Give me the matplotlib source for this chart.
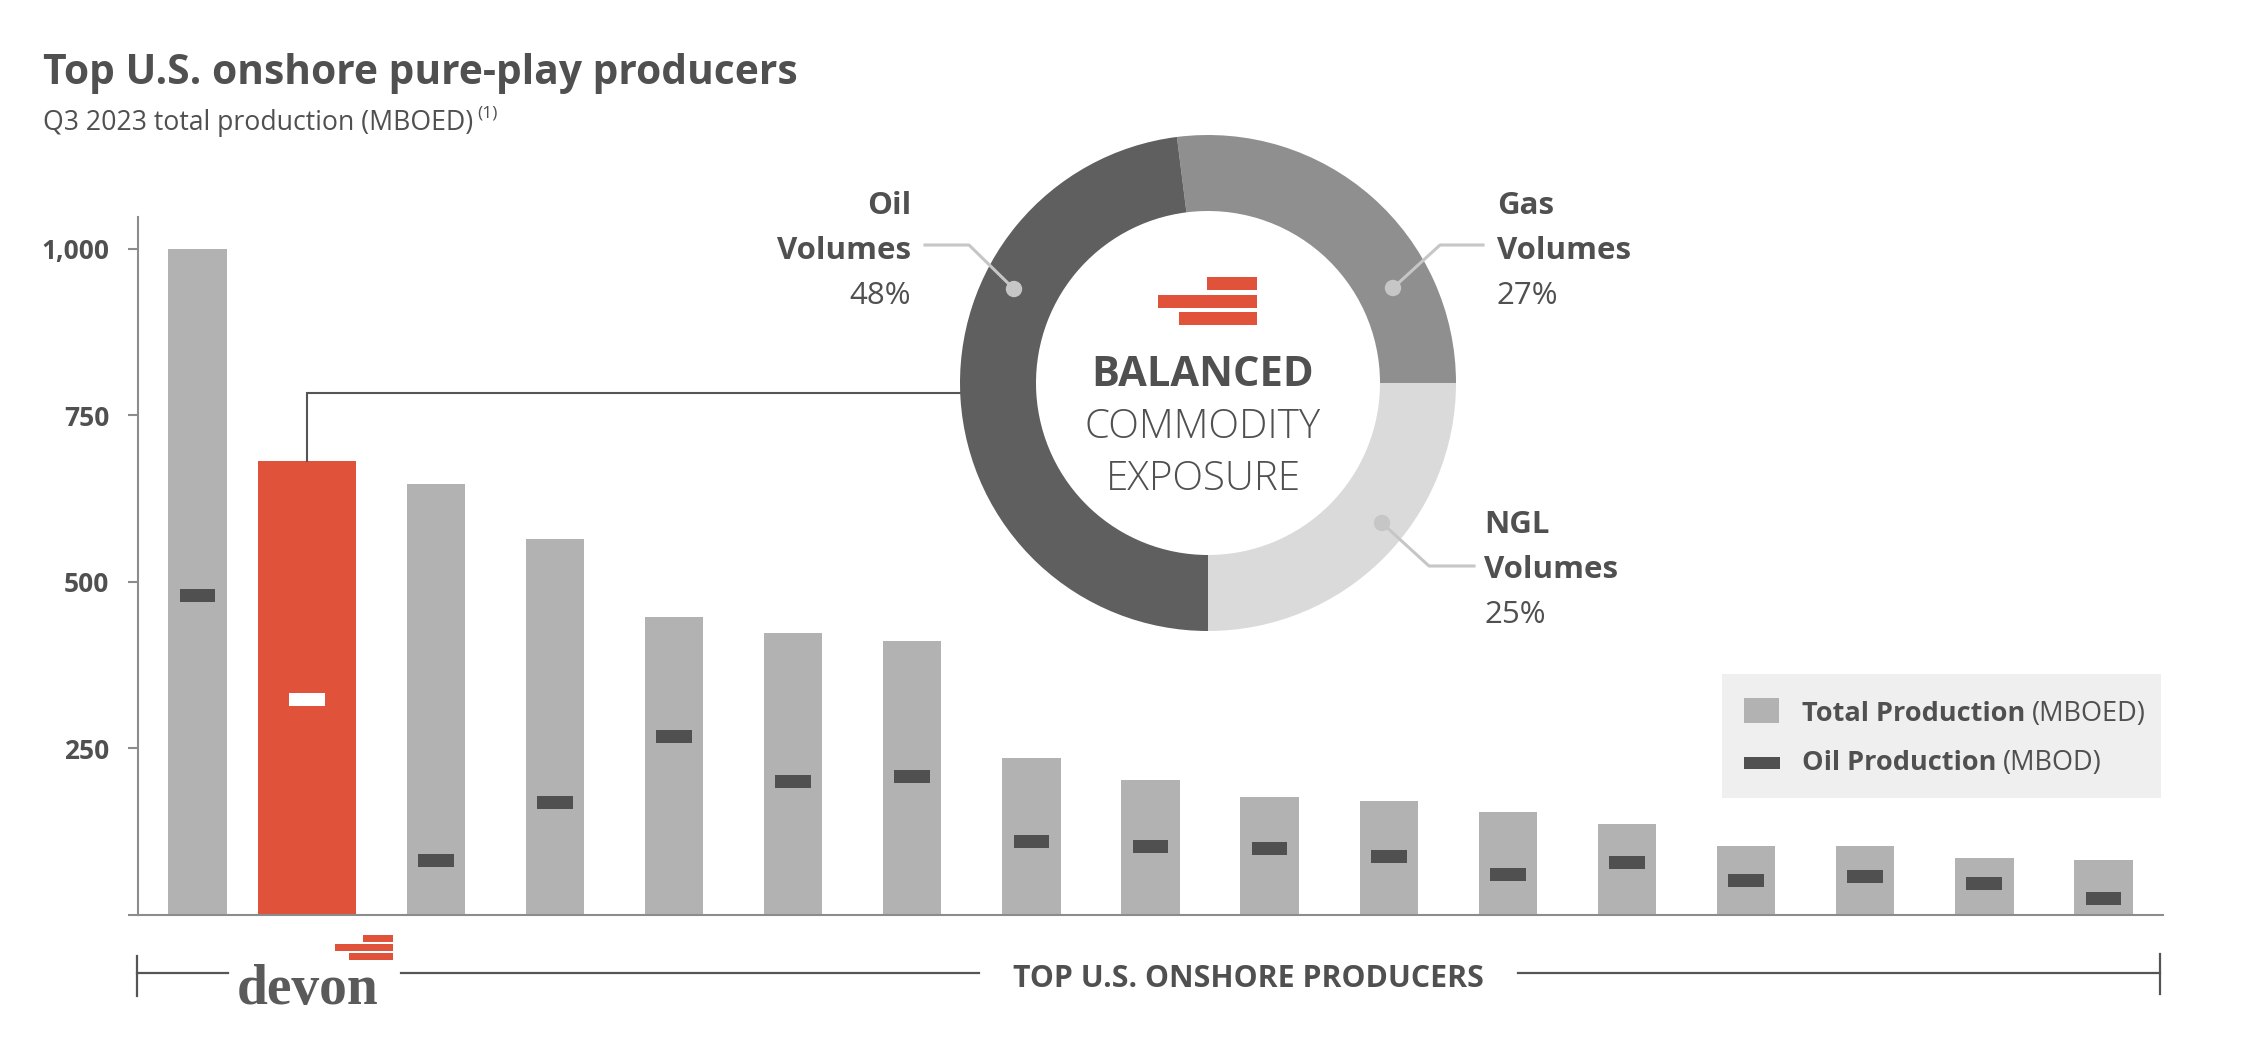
import matplotlib
matplotlib.use("Agg")
import matplotlib.pyplot as plt
from matplotlib.patches import Rectangle, Circle

plt.rcParams["font.family"] = ["Open Sans", "DejaVu Sans"]

W, H = 2268, 1042
DPI = 100

# ---- data ----
producer_rank = list(range(1, 18))
devon_index = 1
total_mboed = [1000, 682, 647, 564, 447, 423, 412, 236, 203, 177, 171, 154, 136, 104, 103, 86, 83]
oil_mbod = [480, 324, 82, 169, 268, 201, 208, 111, 103, 100, 88, 61, 79, 52, 58, 47, 25]
y_ticks = [0, 250, 500, 750, 1000]
y_tick_labels = ["", "250", "500", "750", "1,000"]

mix_labels = ["Gas", "NGL", "Oil"]
mix_pct = [27, 25, 48]

GRAY_BAR = "#b2b2b2"
RED = "#e1523a"
DARK = "#505050"
TEXT = "#505050"
AXIS = "#8c8c8c"
LEADER = "#c6c6c6"


def Y(y):
    # reference pixel rows are counted from the top
    return H - y


fig = plt.figure(figsize=(W / DPI, H / DPI), dpi=DPI)

# ---- bar chart ----
ax = fig.add_axes([138 / W, Y(915) / H, (2163 - 138) / W, (915 - 217) / H])
x = [r - 1 for r in producer_rank]
for i, (t, o) in enumerate(zip(total_mboed, oil_mbod)):
    if i == devon_index:
        xi, bw, bc, mc = x[i] - 0.08, 0.82, RED, "white"
    else:
        xi, bw, bc, mc = x[i], 0.49, GRAY_BAR, DARK
    ax.bar(xi, t, width=bw, color=bc, linewidth=0, zorder=2)
    ax.bar(xi, 19.5, bottom=o - 9.75, width=0.30, color=mc, linewidth=0, zorder=3)

ax.set_xlim(-0.5, 16.5)
ax.set_ylim(0, 1048)
ax.set_xticks([])
ax.set_yticks(y_ticks)
ax.set_yticklabels(y_tick_labels)
for lbl in ax.get_yticklabels():
    lbl.set_fontweight("bold")
ax.tick_params(axis="y", length=7.2, width=1.5, color=AXIS, pad=13.5,
               labelsize=19, labelcolor=TEXT)
for side in ("top", "right"):
    ax.spines[side].set_visible(False)
for side in ("left", "bottom"):
    ax.spines[side].set_color(AXIS)
    ax.spines[side].set_linewidth(1.5)
ax.patch.set_alpha(0)

# ---- overlay in pixel coordinates ----
ov = fig.add_axes([0, 0, 1, 1], zorder=5)
ov.axis("off")

# commodity mix donut
cx, cy, R = 1208, 383, 248
start = -90 + 3.6 * (mix_pct[0] + mix_pct[1])
ov.pie(mix_pct, colors=["#8f8f8f", "#dadada", "#5f5f5f"], startangle=start,
       counterclock=False, radius=R, center=(cx, Y(cy)),
       wedgeprops=dict(width=R - 172, linewidth=0))
ov.set_aspect("auto")
ov.set_xlim(0, W)
ov.set_ylim(0, H)

# connector from Devon bar to donut
rx, ry = ax.transData.transform((x[devon_index] - 0.08, total_mboed[devon_index]))
ov.plot([rx, rx, cx - 200], [ry, Y(393), Y(393)], color="#555555", lw=1.5,
        zorder=0.5, solid_joinstyle="miter")

# leader lines and labels
leaders = [
    ((1014, 289), (969, 245), (925, 245)),
    ((1393, 288), (1440, 245), (1483, 245)),
    ((1382, 523), (1429, 566), (1474, 566)),
]
for pts in leaders:
    ov.plot([p[0] for p in pts], [Y(p[1]) for p in pts], color=LEADER, lw=2.2, zorder=3)
    ov.add_patch(Circle((pts[0][0], Y(pts[0][1])), 7.5, color=LEADER, zorder=4))

label_spots = {"Oil": (911, 206, "right"), "Gas": (1497, 206, "left"), "NGL": (1484, 525, "left")}
for name, pct in zip(mix_labels, mix_pct):
    lx, ly, ha = label_spots[name]
    ov.text(lx, Y(ly), name, ha=ha, va="center", fontsize=22.5, fontweight="bold", color=TEXT)
    ov.text(lx, Y(ly + 45), "Volumes", ha=ha, va="center", fontsize=22.5, fontweight="bold", color=TEXT)
    ov.text(lx, Y(ly + 90), f"{pct}%", ha=ha, va="center", fontsize=22.5, color=TEXT)

# center logo + text
for x0, x1, y0, y1 in [(1207, 1257, 277, 290), (1158, 1257, 295, 308), (1179, 1257, 312, 325)]:
    ov.add_patch(Rectangle((x0, Y(y1)), x1 - x0, y1 - y0, color=RED, lw=0, zorder=4))
ov.text(1203, Y(375), "BALANCED", ha="center", va="center", fontsize=30,
        fontweight="bold", color=TEXT)
ov.text(1203, Y(427), "COMMODITY", ha="center", va="center", fontsize=29,
        fontweight="light", color=TEXT)
ov.text(1203, Y(479), "EXPOSURE", ha="center", va="center", fontsize=29,
        fontweight="light", color=TEXT)

# title / subtitle
renderer = fig.canvas.get_renderer()
ov.text(43, Y(84), "Top U.S. onshore pure-play producers", ha="left", va="baseline",
        fontsize=29.3, fontweight="bold", color=TEXT)
sub = ov.text(43, Y(130), "Q3 2023 total production (MBOED)", ha="left", va="baseline",
              fontsize=19.2, color=TEXT)
bb = sub.get_window_extent(renderer)
ov.text(bb.x1 + 4, Y(117), "(1)", ha="left", va="baseline", fontsize=12.5, color=TEXT)

# legend
ov.add_patch(Rectangle((1722, Y(798)), 2161 - 1722, 798 - 674, color="#efefef", lw=0, zorder=1))
ov.add_patch(Rectangle((1744, Y(723)), 35, 25, color=GRAY_BAR, lw=0, zorder=2))
ov.add_patch(Rectangle((1744, Y(769)), 36, 12, color=DARK, lw=0, zorder=2))
for ty, bold, rest in [(714, "Total Production", "(MBOED)"), (763, "Oil Production", "(MBOD)")]:
    tb = ov.text(1802, Y(ty), bold, ha="left", va="center", fontsize=19.5,
                 fontweight="bold", color=TEXT)
    b = tb.get_window_extent(renderer)
    ov.text(b.x1 + 7, Y(ty), rest, ha="left", va="center", fontsize=19.5, color=TEXT)

# bottom bracket
bk = dict(color="#555555", lw=1.6)
ov.plot([137, 137], [Y(956), Y(996)], **bk)
ov.plot([137, 228], [Y(973), Y(973)], **bk)
ov.plot([401, 979], [Y(973), Y(973)], **bk)
ov.plot([1518, 2160], [Y(973), Y(973)], **bk)
ov.plot([2160, 2160], [Y(954), Y(994)], **bk)
ov.text(1248, Y(979), "TOP U.S. ONSHORE PRODUCERS", ha="center", va="center",
        fontsize=21.8, fontweight="bold", color=TEXT)

# devon wordmark
ov.text(237, Y(1004), "devon", ha="left", va="baseline", fontsize=40,
        family="Liberation Serif", fontweight="bold", color="#5a5a5a")
for x0, x1, y0, y1 in [(363, 393, 935, 942), (335, 393, 944, 951), (349, 393, 953, 960)]:
    ov.add_patch(Rectangle((x0, Y(y1)), x1 - x0, y1 - y0, color=RED, lw=0))

fig.savefig("out.png", dpi=DPI)
